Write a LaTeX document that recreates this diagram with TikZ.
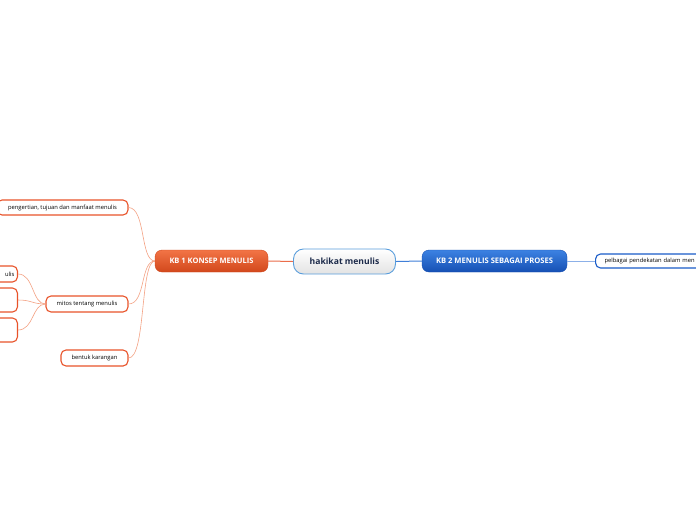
\documentclass[tikz,border=0pt]{standalone}
\usepackage{fontspec}
\setmainfont{Open Sans}
\definecolor{orgline}{HTML}{F4A284}
\definecolor{orgborder}{HTML}{E8532A}
\definecolor{orgtop}{HTML}{F27446}
\definecolor{orgbot}{HTML}{D2481C}
\definecolor{bluline}{HTML}{3F7FD8}
\definecolor{blutop}{HTML}{3C82E2}
\definecolor{blubot}{HTML}{1650B4}
\definecolor{blulight}{HTML}{8CB0E8}
\definecolor{bluborder}{HTML}{1A5CC8}
\definecolor{rootborder}{HTML}{5A9EDC}
\definecolor{navy}{HTML}{1C2A4A}
\begin{document}
\begin{tikzpicture}[x=1pt,y=-1pt,
  rootbox/.style={draw=rootborder, line width=0.9pt, rounded corners=10pt,
    top color=white, bottom color=gray!22, text=navy, font=\fontsize{8.6}{10}\selectfont\bfseries,
    minimum width=102pt, minimum height=25pt, inner sep=0pt},
  kbone/.style={draw=orgbot, line width=0.4pt, rounded corners=7pt,
    top color=orgtop, bottom color=orgbot, text=white,
    font=\fontsize{7.5}{9}\selectfont\bfseries, minimum height=22pt, inner sep=0pt},
  kbtwo/.style={draw=blubot, line width=0.4pt, rounded corners=7pt,
    top color=blutop, bottom color=blubot, text=white,
    font=\fontsize{7.6}{9}\selectfont\bfseries, minimum height=22pt, inner sep=0pt},
  leafo/.style={draw=orgborder, line width=1.1pt, fill=white, rounded corners=5pt,
    text=black, font=\fontsize{5.8}{7}\selectfont, inner sep=0pt},
  leafb/.style={draw=bluborder, line width=1.1pt, fill=white, rounded corners=5pt,
    text=black, font=\fontsize{5.8}{7}\selectfont, inner sep=0pt},
  olink/.style={draw=orgline, line width=0.6pt},
  blink/.style={draw=blulight, line width=0.7pt}
]
\useasboundingbox (0,0) rectangle (696,520);
\fill[white] (0,0) rectangle (696,520);

\coordinate (kb1w) at (155,261);

% leaf nodes
\node[leafo, minimum width=131pt, minimum height=15pt] (peng) at (62.5,207.5) {pengertian, tujuan dan manfaat menulis};
\node[leafo, minimum width=82pt, minimum height=16pt] (mitos) at (87,304) {mitos tentang menulis};
\node[leafo, minimum width=67pt, minimum height=16pt] (bentuk) at (94.5,358) {bentuk karangan};

\node[leafo, anchor=east, minimum height=16pt, text width=30pt, align=right, inner xsep=3pt] (m1) at (18,274) {ulis};
\node[leafo, anchor=east, minimum height=24pt, minimum width=40pt] (m2) at (18,300) {};
\node[leafo, anchor=east, minimum height=24pt, minimum width=40pt] (m3) at (18,330) {};

\node[leafb, minimum height=14pt, anchor=west, text width=112pt, align=left, inner xsep=9pt] (pel) at (595,261) {pelbagai pendekatan dalam men};

% branch connectors
\draw[olink] (kb1w) .. controls (140,261) and (146,208) .. (peng.east);
\draw[olink] (kb1w) .. controls (140,261) and (146,304) .. (mitos.east);
\draw[olink] (kb1w) .. controls (140,261) and (146,358) .. (bentuk.east);

\draw[olink] (mitos.west) .. controls (32,304) and (34,274) .. (m1.east);
\draw[olink] (mitos.west) .. controls (32,304) and (32,300) .. (m2.east);
\draw[olink] (mitos.west) .. controls (32,304) and (34,330) .. (m3.east);

% main nodes
\node[rootbox] (root) at (344.5,261.5) {hakikat menulis};
\node[kbone, minimum width=113pt] (kb1) at (211.5,261) {KB 1 KONSEP MENULIS};
\node[kbtwo, minimum width=145pt] (kb2) at (494.5,261) {KB 2 MENULIS SEBAGAI PROSES};

\draw[orgborder!85!white, line width=1pt] (root.west) -- (kb1.east);
\draw[bluline, line width=1pt] (root.east) -- (kb2.west);
\draw[blink] (kb2.east) -- (pel.west);
\end{tikzpicture}
\end{document}
